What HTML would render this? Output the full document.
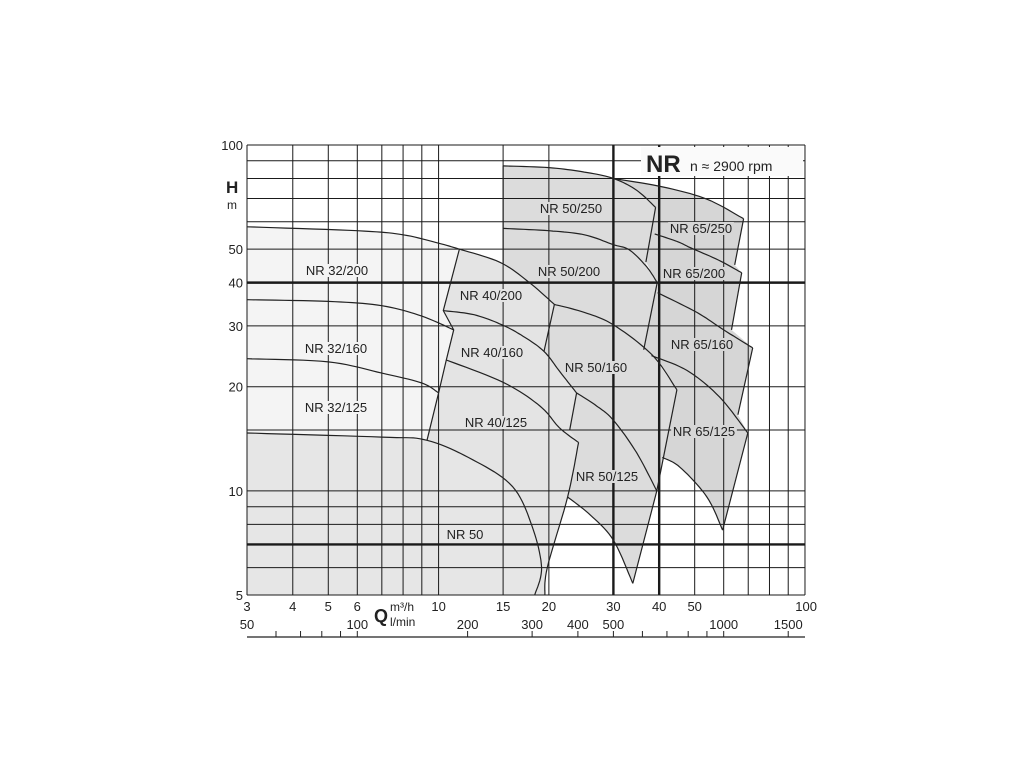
<!DOCTYPE html>
<html><head><meta charset="utf-8"><style>
html,body{margin:0;padding:0;background:#fff;}
svg{display:block;font-family:"Liberation Sans",sans-serif;}
</style></head><body>
<svg id="chart" width="1024" height="768" viewBox="0 0 1024 768" xmlns="http://www.w3.org/2000/svg">
<g id="fills"></g><g id="grid"></g><g id="curves"></g><g id="labels"></g><g id="axes"></g>
</svg>
<script>
const hGrid=[5,6,7,8,9,10,15,20,30,40,50,60,70,80,90,100];
const qGrid=[3,4,5,6,7,8,9,10,15,20,30,40,50,60,70,80,90,100];
const hThick=[7,40];
const qThick=[30,40];
const yTicks=[5,10,20,30,40,50,100];
const qTicks=[3,4,5,6,10,15,20,30,40,50,100];
const lminLabels=[50,100,200,300,400,500,1000,1500];
const lminTicks=[60,70,80,90,100,200,300,400,500,600,700,800,900,1000,1500];

const nr32_200=[[3,58],[6,56.5],[8,55],[10,52],[11.4,50]];
const edge32=[[11.4,50],[10.3,33.2],[11.0,29.2],[10.5,23.9],[10,19.2],[9.3,14]];
const nr32_160=[[3,35.7],[5,35.3],[7,34.3],[9,32],[11,29.2]];
const nr32_125=[[3,24.1],[5,23.6],[7,21.9],[9,20.5],[10,19.2]];
const nr50=[[3,14.7],[7,14.3],[9.3,14],[12.4,12.3],[15.9,10.3],[18,7.9],[19.1,6],[18.3,5]];
const nr40_200=[[11.4,50],[14.7,45.8],[17.7,40],[20.7,34.6]];
const nr40_160=[[10.3,33.2],[12.5,32.3],[14.9,30.2],[17,28],[19.4,25.3],[21.5,22],[23.8,19.2]];
const nr40_125=[[10.5,23.9],[15,20.6],[18.9,17.6],[21.4,15.2],[24.1,13.8]];
const edge40a=[[20.7,34.6],[19.4,25.3]];
const edge40b=[[23.8,19.2],[22.8,15]];
const edge40c=[[24.1,13.8],[22.5,9.6],[19.8,6],[19.5,5]];
const nr50_250=[[15,87],[20,86],[25,83.5],[30,80],[34.7,74],[39.1,66]];
const nr65_250=[[30,80],[41,75.6],[54,69.7],[68,61.2]];
const nr50_200=[[15,57.4],[20,56.5],[25,55],[30,51.5],[33.2,49.7],[37,44.4],[39.5,40]];
const nr65_200=[[38.9,55.3],[45,52.5],[48.6,50.5],[58,46.5],[67.2,42.7]];
const nr50_160=[[20.7,34.6],[25,32.8],[30,30.2],[38.3,24.7],[44.7,19.6]];
const nr65_160=[[39.6,37.4],[50.7,32.8],[60,29.2],[72,25.9]];
const nr50_125=[[23.8,19.2],[27,17.6],[30,16],[34.7,12.9],[39.4,10]];
const nr65_125=[[38.1,24.6],[47.6,22.3],[58.4,18.7],[69.8,14.7]];
const edge50left=[[15,87],[15,45.5]];
const low50=[[22.5,9.6],[26,8.5],[30,7.2],[33.9,5.4]];
const edge50right=[[33.9,5.4],[39.4,10],[44.7,19.6]];
const edge65a=[[39.1,66],[36.8,45.9]];
const edge65b=[[39.5,40],[36.3,25.6]];
const edge65r1=[[68,61.2],[64.3,45]];
const edge65r2=[[67.2,42.7],[63,29.2]];
const edge65r3=[[72,25.9],[65.6,16.6]];
const edge65r4=[[69.8,14.7],[59.6,7.7]];
const low65=[[59.6,7.7],[54,9.6],[45.6,11.7],[40.8,12.5]];

const X=q=>247+366.4*Math.log10(q/3);
const Y=h=>595-345.9*Math.log10(h/5);
const NS="http://www.w3.org/2000/svg";
function px(pts){return pts.map(p=>[X(p[0]),Y(p[1])]);}
function dens(pts){
  const p=px(pts); if(p.length<3) return p;
  const out=[];
  for(let i=0;i<p.length-1;i++){
    const p0=p[Math.max(0,i-1)],p1=p[i],p2=p[i+1],p3=p[Math.min(p.length-1,i+2)];
    for(let t=0;t<1;t+=0.1){
      const t2=t*t,t3=t2*t;
      out.push([0.5*(2*p1[0]+(-p0[0]+p2[0])*t+(2*p0[0]-5*p1[0]+4*p2[0]-p3[0])*t2+(-p0[0]+3*p1[0]-3*p2[0]+p3[0])*t3),
                0.5*(2*p1[1]+(-p0[1]+p2[1])*t+(2*p0[1]-5*p1[1]+4*p2[1]-p3[1])*t2+(-p0[1]+3*p1[1]-3*p2[1]+p3[1])*t3)]);
    }
  }
  out.push(p[p.length-1]);return out;
}
const rev=a=>a.slice().reverse();
const ptsStr=a=>a.map(p=>p[0].toFixed(1)+','+p[1].toFixed(1)).join(' ');
function el(tag,attrs,parent){const e=document.createElementNS(NS,tag);for(const k in attrs)e.setAttribute(k,attrs[k]);document.getElementById(parent).appendChild(e);return e;}

// fills
function fill(name,pts,color){
  const e=el('polygon',{points:ptsStr(pts),fill:color,stroke:'none'},'fills');
  
  
}
fill('region-nr50',[[X(3),Y(14.7)],...dens(nr50),[X(3),Y(5)]],'#e6e6e6');
fill('region-nr32',[...dens(nr32_200),...px(edge32).slice(1),...px([[7,14.3],[3,14.7]])],'#f4f4f4');
fill('region-nr50-series',[...dens(nr50_250),...px(edge65a),...px([[37,44.4],[39.5,40]]),...px(edge65b),...px([[38.3,24.7],[44.7,19.6]]),...rev(px(edge50right)),...rev(dens(low50)),...px([[24.1,13.8],[22.8,15],[23.8,19.2],[19.4,25.3],[20.7,34.6],[17.7,40],[15,45.5]])],'#dcdcdc');
fill('region-nr40',[...dens(nr40_200),...px(edge40a),...dens([[19.4,25.3],[21.5,22],[23.8,19.2]]),...px(edge40b),...dens(edge40c),[X(18.3),Y(5)],...rev(dens(nr50)).filter(p=>p[0]>=X(9.3)-0.5),...rev(px(edge32))],'#e4e4e4');
fill('region-nr65',[...dens(nr65_250),...px(edge65r1),[X(67.2),Y(42.7)],...px(edge65r2),[X(72),Y(25.9)],...px(edge65r3),[X(69.8),Y(14.7)],...px(edge65r4),...dens(low65),[X(44.7),Y(19.6)],...rev(dens(nr50_160)).filter(p=>p[0]>=X(38.3)-0.5),...px([[36.3,25.6],[39.5,40],[36.8,45.9],[39.1,66],[34.7,74],[30,80]])],'#d6d6d6');

// grid
hGrid.forEach(h=>{
  const th=hThick.includes(h);
  const e=el('line',{x1:247,x2:805,y1:Y(h),y2:Y(h),stroke:'#1a1a1a','stroke-width':th?2.4:1},'grid');
  
  
});
qGrid.forEach(q=>{
  const th=qThick.includes(q);
  const e=el('line',{x1:X(q),x2:X(q),y1:145,y2:595,stroke:'#1a1a1a','stroke-width':th?2.4:1},'grid');
  
  
});

// curves
const smoothCurves={ 'curve-nr32-200':nr32_200,'curve-nr32-160':nr32_160,'curve-nr32-125':nr32_125,'curve-nr50':nr50,
 'curve-nr40-200':nr40_200,'curve-nr40-160':nr40_160,'curve-nr40-125':nr40_125,'curve-nr50-250':nr50_250,'curve-nr65-250':nr65_250,
 'curve-nr50-200':nr50_200,'curve-nr65-200':nr65_200,'curve-nr50-160':nr50_160,'curve-nr65-160':nr65_160,'curve-nr50-125':nr50_125,
 'curve-nr65-125':nr65_125,'edge-nr40-bottom':edge40c,'low-nr50':low50,'low-nr65':low65};
const straightEdges={'edge-nr32':edge32,'edge-nr40-a':edge40a,'edge-nr40-b':edge40b,'edge-nr50-left':edge50left,'edge-nr50-right':edge50right,
 'edge-nr65-a':edge65a,'edge-nr65-b':edge65b,'edge-nr65-r1':edge65r1,'edge-nr65-r2':edge65r2,'edge-nr65-r3':edge65r3,'edge-nr65-r4':edge65r4};
for(const k in smoothCurves){
  const e=el('polyline',{points:ptsStr(dens(smoothCurves[k])),fill:'none',stroke:'#222','stroke-width':1.2},'curves');
  
  
}
for(const k in straightEdges){
  const e=el('polyline',{points:ptsStr(px(straightEdges[k])),fill:'none',stroke:'#222','stroke-width':1.2},'curves');
  
  
}

// pump labels
const pumpLabels=[['NR 32/200',337,275,'#f4f4f4'],['NR 32/160',336,353,'#f4f4f4'],['NR 32/125',336,412,'#f4f4f4'],
 ['NR 40/200',491,300,'#e4e4e4'],['NR 40/160',492,357,'#e4e4e4'],['NR 40/125',496,427,'#e4e4e4'],['NR 50',465,539,'#e6e6e6'],
 ['NR 50/250',571,213,'#dcdcdc'],['NR 50/200',569,276,'#dcdcdc'],['NR 50/160',596,372,'#dcdcdc'],['NR 50/125',607,481,'#dcdcdc'],
 ['NR 65/250',701,233,'#d6d6d6'],['NR 65/200',694,278,'#d6d6d6'],['NR 65/160',702,349,'#d6d6d6'],['NR 65/125',704,436,'#d6d6d6']];
pumpLabels.forEach(l=>{
  const w=l[0].length*7.3;
  const r=el('rect',{x:l[1]-w/2,y:l[2]-11,width:w,height:13,fill:l[3]},'labels');
  
  
  const t=el('text',{x:l[1],y:l[2],'text-anchor':'middle','font-size':13,fill:'#222'},'labels');
  t.textContent=l[0];
  
  
});

// y tick labels
yTicks.forEach(h=>{
  const t=el('text',{x:243,y:Y(h)+5,'text-anchor':'end','font-size':13,fill:'#222'},'axes');
  t.textContent=h;
  
  
});
qTicks.forEach(q=>{
  const t=el('text',{x:X(q),y:611,'text-anchor':q===100?'end':'middle','font-size':13,fill:'#222'},'axes');
  if(q===100) t.setAttribute('x',X(q)+12);
  t.textContent=q;
  
  
});
lminLabels.forEach(v=>{
  const t=el('text',{x:X(v*0.06),y:629,'text-anchor':'middle','font-size':13,fill:'#222'},'axes');
  t.textContent=v;
  
  
});
const ax=el('line',{x1:247,x2:805,y1:637,y2:637,stroke:'#222','stroke-width':1.2},'axes');


lminTicks.forEach(v=>{
  const e=el('line',{x1:X(v*0.06),x2:X(v*0.06),y1:631,y2:637,stroke:'#222','stroke-width':1},'axes');
  
  
});
</script>
<svg style="position:absolute;left:0;top:0" width="1024" height="768">
<rect x="641" y="147" width="162" height="29" fill="#fafafa"/>
<text x="646" y="172" font-family="Liberation Sans, sans-serif" font-weight="bold" font-size="24" fill="#222">NR</text>
<text x="690" y="171" font-family="Liberation Sans, sans-serif" font-size="14" fill="#222">n ≈ 2900 rpm</text>
<text x="226" y="193" font-family="Liberation Sans, sans-serif" font-weight="bold" font-size="17" fill="#222">H</text>
<text x="227" y="209" font-family="Liberation Sans, sans-serif" font-size="12" fill="#222">m</text>
<text x="374" y="622" font-family="Liberation Sans, sans-serif" font-weight="bold" font-size="18" fill="#222">Q</text>
<text x="390" y="611" font-family="Liberation Sans, sans-serif" font-size="12" fill="#222">m³/h</text>
<text x="390" y="626" font-family="Liberation Sans, sans-serif" font-size="12" fill="#222">l/min</text>
</svg>
</body></html>
